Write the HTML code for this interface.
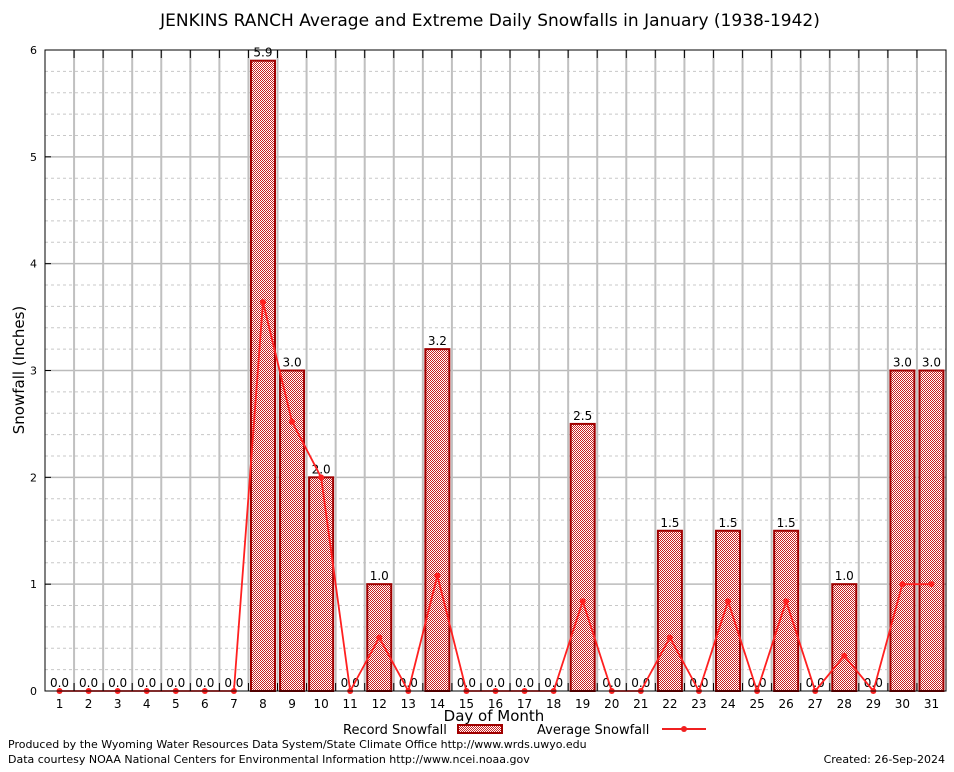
<!DOCTYPE html>
<html><head><meta charset="utf-8"><style>
body{margin:0;background:#fff;font-family:"DejaVu Sans","Liberation Sans",sans-serif;}
svg text{font-family:"DejaVu Sans","Liberation Sans",sans-serif;}
</style></head><body>
<svg id="chart" width="954" height="768" xmlns="http://www.w3.org/2000/svg">
<defs>
<pattern id="chk" width="2" height="2" patternUnits="userSpaceOnUse">
<rect width="2" height="2" fill="#fff"/><rect width="1" height="1" fill="#c82020"/><rect x="1" y="1" width="1" height="1" fill="#c82020"/>
</pattern>
</defs>
<rect x="0" y="0" width="954" height="768" fill="#fff"/>
<text x="490" y="26" font-size="17" text-anchor="middle">JENKINS RANCH Average and Extreme Daily Snowfalls in January (1938-1942)</text>
<g id="grid"></g>
<g id="bars"></g>
<g id="line"></g>
<g id="axes"></g>
<text x="24" y="370" font-size="15" text-anchor="middle" transform="rotate(-90 24 370)">Snowfall (Inches)</text>
<text x="494" y="721" font-size="15" text-anchor="middle">Day of Month</text>
<g>
<text x="343" y="734" font-size="13">Record Snowfall</text>
<rect x="458" y="725" width="44" height="8" fill="url(#chk)" stroke="#a00000" stroke-width="2"/>
<text x="537" y="734" font-size="13">Average Snowfall</text>
<line x1="662" y1="729" x2="706" y2="729" stroke="#f02020" stroke-width="2"/>
<circle cx="684" cy="729" r="3" fill="#f02020"/>
</g>
<text x="8" y="748" font-size="11">Produced by the Wyoming Water Resources Data System/State Climate Office http://www.wrds.uwyo.edu</text>
<text x="8" y="763" font-size="11">Data courtesy NOAA National Centers for Environmental Information http://www.ncei.noaa.gov</text>
<text x="945" y="763" font-size="11" text-anchor="end">Created:  26-Sep-2024</text>
</svg>
<script>
const days = [1,2,3,4,5,6,7,8,9,10,11,12,13,14,15,16,17,18,19,20,21,22,23,24,25,26,27,28,29,30,31];
const recordSnow = [0,0,0,0,0,0,0,5.9,3.0,2.0,0,1.0,0,3.2,0,0,0,0,2.5,0,0,1.5,0,1.5,0,1.5,0,1.0,0,3.0,3.0];
const avgSnow = [0,0,0,0,0,0,0,3.64,2.52,2.0,0,0.5,0,1.08,0,0,0,0,0.84,0,0,0.5,0,0.84,0,0.84,0,0.33,0,1.0,1.0];
const yTicks = [0,1,2,3,4,5,6];
const NS="http://www.w3.org/2000/svg";
const L=45,R=946,T=50,B=691,yMax=6;
const step=(R-L)/days.length;
const xs=d=>L+(d-0.5)*step;
const ys=v=>B-(v/yMax)*(B-T);
function mk(tag,attrs,parent){const e=document.createElementNS(NS,tag);for(const k in attrs)e.setAttribute(k,attrs[k]);document.getElementById(parent).appendChild(e);return e;}
for(let v=0.2;v<yMax-0.01;v+=0.2){
  const isInt=Math.abs(v-Math.round(v))<0.01;
  const g=mk('line',{x1:L,x2:R,y1:ys(v),y2:ys(v),stroke:isInt?'#bbb':'#c8c8c8','stroke-width':isInt?1.5:1,'stroke-dasharray':isInt?'':'3,3'},'grid');
  
  
}
for(let i=1;i<days.length;i++){
  const g=mk('line',{x1:L+i*step,x2:L+i*step,y1:T,y2:B,stroke:'#c0c0c0','stroke-width':2},'grid');
  
  
}
days.forEach((d,i)=>{
  const v=recordSnow[i];
  if(v>0){
    const b=mk('rect',{x:xs(d)-12,y:ys(v),width:24,height:B-ys(v),fill:'url(#chk)',stroke:'#a00000','stroke-width':2},'bars');
    
    
  }
  const t=mk('text',{x:xs(d),y:ys(v)-4,'font-size':12,'text-anchor':'middle'},'bars');
  t.textContent=v.toFixed(1);
  
  
});
const pts=days.map((d,i)=>xs(d)+','+ys(avgSnow[i])).join(' ');
const pl=mk('polyline',{points:pts,fill:'none',stroke:'#ff2020','stroke-width':1.8},'line');


days.forEach((d,i)=>{
  const c=mk('circle',{cx:xs(d),cy:ys(avgSnow[i]),r:3,fill:'#ff2020'},'line');
  
  
});
const fr=mk('rect',{x:L,y:T,width:R-L,height:B-T,fill:'none',stroke:'#000','stroke-width':1},'axes');


yTicks.forEach(v=>{
  mk('line',{x1:L,x2:L+6,y1:ys(v),y2:ys(v),stroke:'#000'},'axes');
  const t=mk('text',{x:L-8,y:ys(v)+4,'font-size':11,'text-anchor':'end'},'axes');
  t.textContent=v;
  
  
});
for(let i=1;i<days.length;i++){
  mk('line',{x1:L+i*step,x2:L+i*step,y1:T,y2:T+8,stroke:'#000'},'axes');
  mk('line',{x1:L+i*step,x2:L+i*step,y1:B,y2:B-8,stroke:'#000'},'axes');
}
days.forEach(d=>{
  const t=mk('text',{x:xs(d),y:B+17,'font-size':12,'text-anchor':'middle','font-family':'Liberation Serif, serif'},'axes');
  t.textContent=d;
  
  
});
</script>
</body></html>
